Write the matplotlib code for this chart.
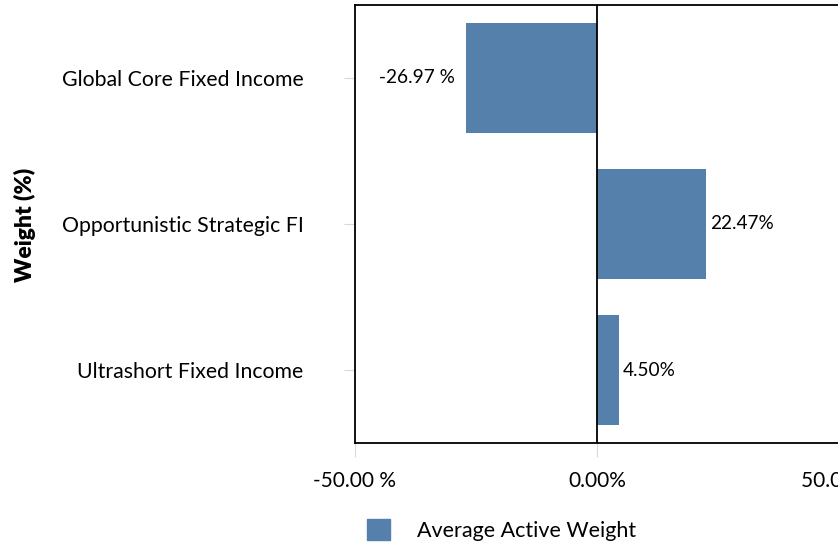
import matplotlib.pyplot as plt
from matplotlib.patches import Patch

plt.rcParams['font.family'] = ['Lato', 'DejaVu Sans']

# 数据
categories = ['Global Core Fixed Income', 'Opportunistic Strategic FI', 'Ultrashort Fixed Income']
weights = [-26.97, 22.47, 4.50]
bar_labels = ['-26.97 %', '22.47%', '4.50%']
xticks = [-50, 0, 50]
xtick_labels = ['-50.00 %', '0.00%', '50.00 %']
bar_color = '#5580ab'

fig = plt.figure(figsize=(8.38, 5.47), dpi=100)
ax = fig.add_axes([0.4236, 0.1901, 0.5776, 0.8008])

ypos = list(range(len(categories)))
ax.barh(ypos, weights, height=0.75, color=bar_color, zorder=2)
ax.axvline(0, color='black', linewidth=1.3, zorder=3)

# 数值标签
for y, v, lab in zip(ypos, weights, bar_labels):
    if v < 0:
        ax.annotate(lab, (v, y), xytext=(-8, 0), textcoords='offset points',
                    ha='right', va='center', fontsize=13.7)
    else:
        ax.annotate(lab, (v, y), xytext=(3, 0), textcoords='offset points',
                    ha='left', va='center', fontsize=13.7)

ax.set_xlim(-50, 50)
ax.set_ylim(2.5, -0.5)
ax.set_yticks(ypos)
ax.set_yticklabels(categories, fontsize=15.3)
ax.set_xticks(xticks)
ax.set_xticklabels(xtick_labels, fontsize=15)
ax.tick_params(axis='y', length=8, color='#d9d9d9', pad=29)
ax.tick_params(axis='x', length=10, color='#d9d9d9', pad=10)

for side in ['top', 'left', 'bottom']:
    ax.spines[side].set_linewidth(1.3)
ax.spines['right'].set_visible(False)

fig.text(0.030, 0.589, 'Weight (%)', rotation=90, fontsize=16.5, fontweight='heavy',
         ha='center', va='center')

fig.legend(handles=[Patch(color=bar_color, label='Average Active Weight')],
           loc='center', bbox_to_anchor=(0.598, 0.031), frameon=False,
           fontsize=15.5, handlelength=1.07, handleheight=1.07, handletextpad=1.25)

plt.savefig('out.png', dpi=100)
